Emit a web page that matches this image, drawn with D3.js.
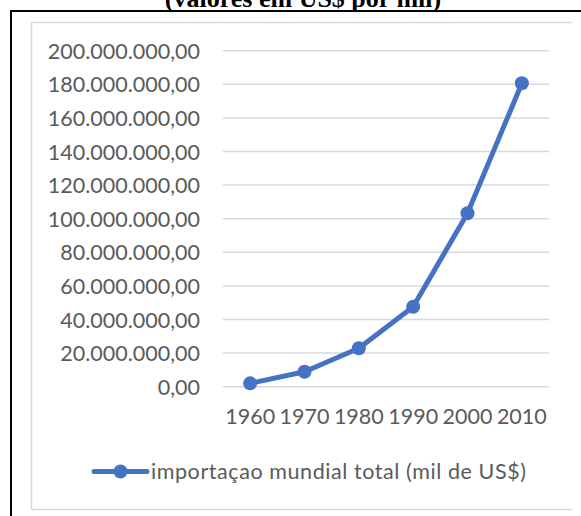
<!DOCTYPE html>
<html><head><meta charset="utf-8">
<script src="https://cdn.jsdelivr.net/npm/d3@7"></script>
<style>body{margin:0;background:#fff;}svg{display:block;}</style>
</head><body>
<script>
const years = ["1960","1970","1980","1990","2000","2010"];
const values = [2000000, 8900000, 22900000, 47600000, 103200000, 180600000];
const yTicks = [0,20000000,40000000,60000000,80000000,100000000,120000000,140000000,160000000,180000000,200000000];
const seriesName = "importaçao mundial total (mil de US$)";
const title = "(valores em US$ por mil)";

const W = 581, H = 516;
const svg = d3.select("body").append("svg").attr("width", W).attr("height", H);
const font = "Lato, 'Open Sans', sans-serif";
const blue = "#4472C4";
const fs = 21.5;

// title (clipped at top, as in the source image)
svg.append("text").attr("x", 303).attr("y", 7).attr("text-anchor", "middle")
  .attr("font-family", "'Liberation Serif', 'Times New Roman', serif").attr("font-weight", "bold")
  .attr("font-size", 26).attr("fill", "#000").text(title);

// outer black frame
svg.append("line").attr("x1", 11).attr("x2", W).attr("y1", 11).attr("y2", 11).attr("stroke", "#000").attr("stroke-width", 2);
svg.append("line").attr("x1", 11).attr("x2", 11).attr("y1", 10).attr("y2", H).attr("stroke", "#000").attr("stroke-width", 2);

// inner grey chart-area frame
const g0 = svg.append("g").attr("stroke", "#d9d9d9").attr("stroke-width", 1.5);
g0.append("line").attr("x1", 31.5).attr("x2", 572).attr("y1", 22.5).attr("y2", 22.5);
g0.append("line").attr("x1", 31.5).attr("x2", 31.5).attr("y1", 22.5).attr("y2", 509.5);
g0.append("line").attr("x1", 31.5).attr("x2", 572).attr("y1", 509.5).attr("y2", 509.5);

const x = d3.scaleBand().domain(years).range([223, 549]);
const y = d3.scaleLinear().domain([0, 200000000]).range([386.7, 50.7]);

const fmt = v => d3.format(",.2f")(v).replace(/,/g, "#").replace(/\./g, ",").replace(/#/g, ".");

// y axis
const yAxis = d3.axisLeft(y).tickValues(yTicks).tickFormat(fmt).tickSize(0).tickPadding(0);
const ya = svg.append("g").attr("transform", "translate(200,0)").call(yAxis);
ya.select(".domain").remove();
ya.selectAll("text").attr("font-family", font).attr("font-size", fs).attr("fill", "#5a5a5a").attr("dy", "0.35em");

// gridlines
svg.append("g").selectAll("line").data(yTicks).join("line")
  .attr("x1", 223).attr("x2", 549).attr("y1", d => y(d)).attr("y2", d => y(d))
  .attr("stroke", "#d9d9d9").attr("stroke-width", 1.5);

// x axis
const xAxis = d3.axisBottom(x).tickSize(0).tickPadding(0);
const xa = svg.append("g").attr("transform", "translate(0,386.7)").call(xAxis);
xa.select(".domain").remove();
xa.selectAll("text").attr("font-family", font).attr("font-size", fs).attr("fill", "#5a5a5a").attr("dy", null).attr("y", 37.5);

// line
const cx = d => x(d) + x.bandwidth() / 2;
const data = years.map((yr, i) => ({yr, v: values[i]}));
svg.append("path").datum(data)
  .attr("d", d3.line().x(d => cx(d.yr)).y(d => y(d.v)))
  .attr("fill", "none").attr("stroke", blue).attr("stroke-width", 5).attr("stroke-linejoin", "round").attr("stroke-linecap", "round");
svg.append("g").selectAll("circle").data(data).join("circle")
  .attr("cx", d => cx(d.yr)).attr("cy", d => y(d.v)).attr("r", 7).attr("fill", blue);

// legend
const lg = svg.append("g");
lg.append("line").attr("x1", 94).attr("x2", 147).attr("y1", 471.5).attr("y2", 471.5)
  .attr("stroke", blue).attr("stroke-width", 5).attr("stroke-linecap", "round");
lg.append("circle").attr("cx", 120.5).attr("cy", 471.5).attr("r", 7).attr("fill", blue);
lg.append("text").attr("x", 151).attr("y", 479).attr("font-family", font).attr("font-size", fs)
  .attr("textLength", 375).attr("lengthAdjust", "spacing")
  .attr("fill", "#5a5a5a").text(seriesName);
</script>
</body></html>
